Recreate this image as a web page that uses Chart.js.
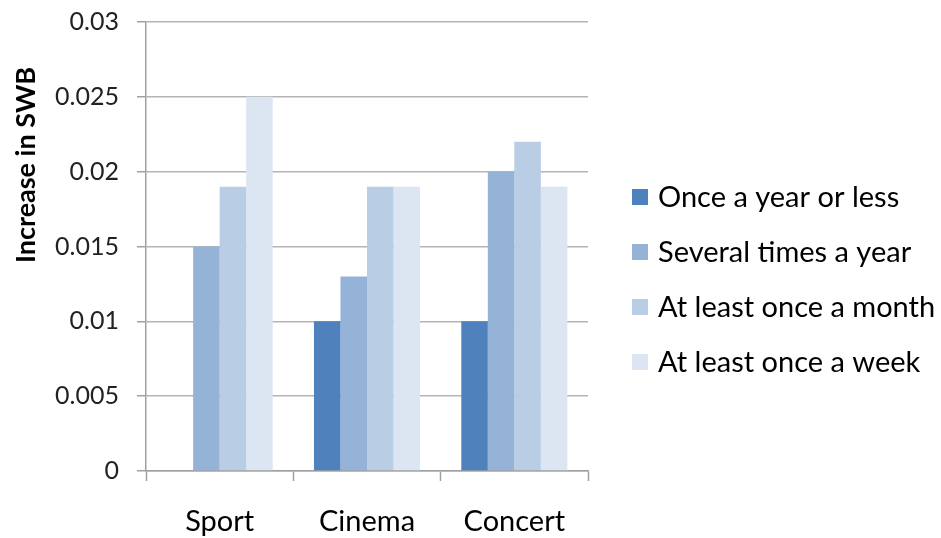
<!DOCTYPE html>
<html>
<head>
<meta charset="utf-8">
<script src="https://cdn.jsdelivr.net/npm/chart.js@4/dist/chart.umd.min.js"></script>
<style>
  html, body { margin: 0; padding: 0; background: #fff; }
  #wrap { width: 941px; height: 538px; }
</style>
</head>
<body>
<div id="wrap"><canvas id="c" width="941" height="538"></canvas></div>
<script>
// Activities and frequency groups
const categories = ['Sport', 'Cinema', 'Concert'];
const seriesNames = ['Once a year or less', 'Several times a year', 'At least once a month', 'At least once a week'];
const onceAYearOrLess = [null, 0.010, 0.010];
const severalTimesAYear = [0.015, 0.013, 0.020];
const atLeastMonthly = [0.019, 0.019, 0.022];
const atLeastWeekly = [0.025, 0.019, 0.019];
const yTicks = [0, 0.005, 0.01, 0.015, 0.02, 0.025, 0.03];
const yTitle = 'Increase in SWB';

const colors = ['#4F81BD', '#95B3D7', '#B9CDE5', '#DCE6F2'];
const FONT = 'Lato, "Open Sans", sans-serif';

const seriesValues = [onceAYearOrLess, severalTimesAYear, atLeastMonthly, atLeastWeekly];

// Legend and rotated axis title drawn beside the plot
const sidePlugin = {
  id: 'side',
  afterDraw(chart) {
    const ctx = chart.ctx;
    ctx.save();
    // legend
    ctx.font = '29px ' + FONT;
    ctx.textBaseline = 'middle';
    ctx.textAlign = 'left';
    chart.data.datasets.forEach((ds, i) => {
      const y = 197 + i * 55;
      ctx.fillStyle = ds.backgroundColor;
      ctx.fillRect(632, y - 8, 16, 16);
      ctx.fillStyle = '#000';
      ctx.fillText(ds.label, 658, y + 1);
    });
    // y title
    ctx.translate(26, 165);
    ctx.rotate(-Math.PI / 2);
    ctx.font = 'bold 27px ' + FONT;
    ctx.textAlign = 'center';
    ctx.textBaseline = 'middle';
    ctx.fillStyle = '#000';
    ctx.fillText(yTitle, 0, 0);
    ctx.restore();
  }
};

new Chart(document.getElementById('c'), {
  type: 'bar',
  data: {
    labels: categories,
    datasets: seriesNames.map((n, i) => ({
      label: n,
      data: seriesValues[i],
      backgroundColor: colors[i],
      borderWidth: 0,
      categoryPercentage: 0.72,
      barPercentage: 1.0
    }))
  },
  options: {
    responsive: false,
    animation: false,
    devicePixelRatio: 1,
    layout: { padding: { top: 22, right: 353, left: 0, bottom: 0 } },
    plugins: { legend: { display: false }, tooltip: { enabled: false } },
    scales: {
      x: {
        offset: true,
        grid: {
          offset: true,
          drawOnChartArea: false,
          drawTicks: true,
          tickLength: 10,
          tickColor: '#A0A0A0',
          tickWidth: 1.5
        },
        border: { color: '#A0A0A0', width: 1.5 },
        ticks: { color: '#000', font: { family: FONT, size: 29 }, padding: 23 },
        afterFit(s) { s.height = 67; s.paddingLeft = 0; s.paddingRight = 0; }
      },
      y: {
        min: 0,
        max: 0.03,
        afterBuildTicks(s) { s.ticks = yTicks.map(v => ({ value: v })); },
        ticks: {
          color: '#222',
          font: { family: FONT, size: 25 },
          padding: 18,
          callback: v => String(+v.toFixed(3))
        },
        grid: { color: '#B4B4B4', lineWidth: 1.5, tickLength: 9, tickColor: '#A0A0A0' },
        border: { color: '#A0A0A0', width: 1.5 },
        afterFit(s) { s.width = 146; s.paddingTop = 0; s.paddingBottom = 0; }
      }
    }
  },
  plugins: [sidePlugin]
});
</script>
</body>
</html>
